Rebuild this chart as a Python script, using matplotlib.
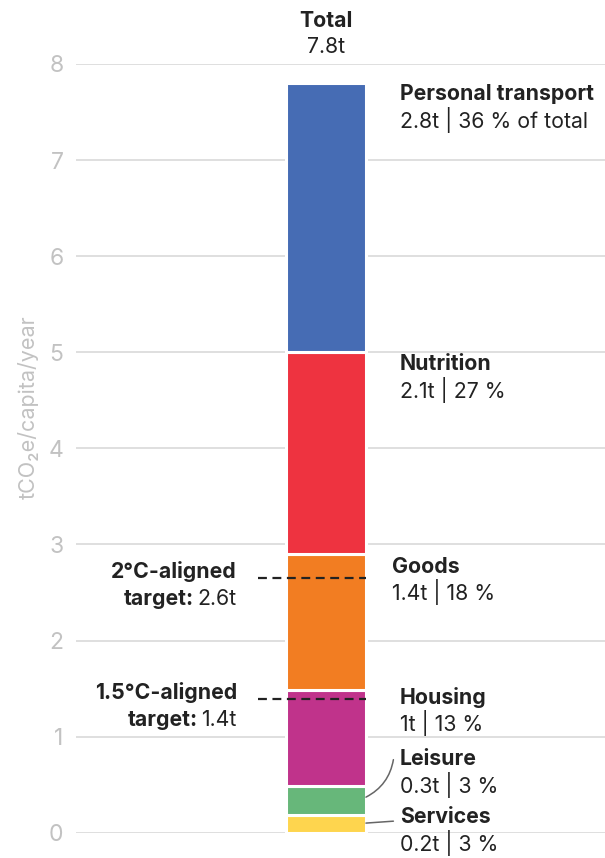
import matplotlib
matplotlib.use('Agg')
import matplotlib.pyplot as plt

plt.rcParams['font.family'] = ['Inter', 'DejaVu Sans']

# footprint by category, bottom to top
categories = ['Services', 'Leisure', 'Housing', 'Goods', 'Nutrition', 'Personal transport']
values = [0.18, 0.31, 1.0, 1.41, 2.1, 2.8]
value_labels = ['0.2t | 3 %', '0.3t | 3 %', '1t | 13 %', '1.4t | 18 %', '2.1t | 27 %',
                '2.8t | 36 % of total']
colors = ['#fed54e', '#67b77a', '#c0338b', '#f27d22', '#ee3340', '#466cb4']
total = 7.8

targets = [2.65, 1.39]
target_names = ['2°C-aligned', '1.5°C-aligned']
target_values = ['2.6t', '1.4t']

yticks = [0, 1, 2, 3, 4, 5, 6, 7, 8]

# label layout (axes-fraction x, data y of name line)
label_x = [0.6125, 0.6125, 0.6125, 0.597, 0.6125, 0.6125]
label_y = [0.16, 0.77, 1.41, 2.77, 4.88, 7.69]

dark = '#222222'
grey = '#c2c2c2'
fs = 15.3

fig = plt.figure(figsize=(6.05, 8.58), dpi=100)
ax = fig.add_axes([76 / 605, 25.3 / 858, 529 / 605, 768.7 / 858])
ax.set_xlim(0, 1)
ax.set_ylim(0, 8)

for s in ax.spines.values():
    s.set_visible(False)
ax.set_xticks([])
ax.set_yticks(yticks)
ax.tick_params(axis='y', length=0, pad=9, labelsize=16.5, labelcolor=grey)
ax.yaxis.grid(True, color='#d9d9d9', linewidth=1.2, zorder=0)
ax.set_axisbelow(True)

bx, bw = 0.4726, 0.151
bottom = 0
for v, c in zip(values, colors):
    ax.bar(bx, v, bw, bottom=bottom, color=c, edgecolor='white', linewidth=2.2, zorder=2)
    bottom += v

ax.text(bx, 8.45, 'Total', ha='center', va='center', fontsize=fs, fontweight='bold', color=dark)
ax.text(bx, 8.18, f'{total}t', ha='center', va='center', fontsize=fs, color=dark)

tr = ax.get_yaxis_transform()
for name, vl, lx, ly in zip(categories, value_labels, label_x, label_y):
    ax.text(lx, ly, name, transform=tr, ha='left', va='center', fontsize=fs,
            fontweight='bold', color=dark, clip_on=False)
    ax.text(lx, ly - 0.27, vl, transform=tr, ha='left', va='center', fontsize=fs,
            color=dark, clip_on=False)

# connectors for the two small segments
ax.annotate('', xy=(0.6, 0.76), xycoords=tr, xytext=(bx + bw / 2, 0.37), textcoords=tr,
            arrowprops=dict(arrowstyle='-', color='#666666', lw=1.1,
                            connectionstyle='arc3,rad=0.25', shrinkA=0, shrinkB=0))
ax.annotate('', xy=(0.6, 0.12), xycoords=tr, xytext=(bx + bw / 2, 0.10), textcoords=tr,
            arrowprops=dict(arrowstyle='-', color='#666666', lw=1.1, shrinkA=0, shrinkB=0))

# targets
fig.canvas.draw()
renderer = fig.canvas.get_renderer()
for t, tn, tv in zip(targets, target_names, target_values):
    ax.plot([0.344, bx + bw / 2], [t, t], color=dark, lw=1.6, ls=(0, (4, 2.5)), zorder=3)
    ax.text(0.304, t + 0.07, tn, transform=tr, ha='right', va='center', fontsize=fs,
            fontweight='bold', color=dark)
    vt = ax.text(0.304, t - 0.22, tv, transform=tr, ha='right', va='center', fontsize=fs,
                 color=dark)
    bb = vt.get_window_extent(renderer)
    x0 = ax.transAxes.inverted().transform((bb.x0 - 4, 0))[0]
    ax.text(x0, t - 0.22, 'target:', transform=tr, ha='right', va='center', fontsize=fs,
            fontweight='bold', color=dark)

ax.text(-0.0907, 4.43, 'tCO₂e/capita/year', transform=tr, rotation=90, ha='center',
        va='center', fontsize=15.5, color=grey)

fig.savefig('out.png', dpi=100)
